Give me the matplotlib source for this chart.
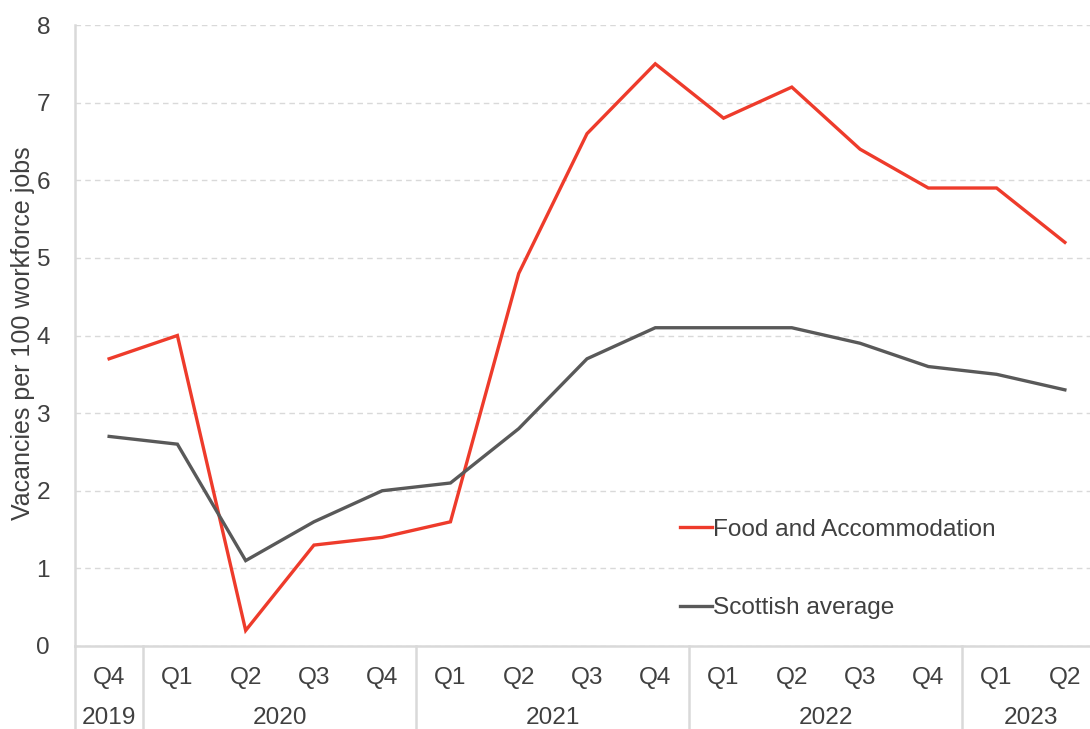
import numpy as np
import matplotlib
matplotlib.use("Agg")
import matplotlib.pyplot as plt
import matplotlib.transforms as mtransforms

#--- data ---#
quarters = ["Q4", "Q1", "Q2", "Q3", "Q4", "Q1", "Q2", "Q3", "Q4",
            "Q1", "Q2", "Q3", "Q4", "Q1", "Q2"]
years = ["2019", "2020", "2021", "2022", "2023"]
year_counts = [1, 4, 4, 4, 2]   # quarters per year group
food_accom = [3.7, 4.0, 0.2, 1.3, 1.4, 1.6, 4.8, 6.6, 7.5, 6.8, 7.2, 6.4, 5.9, 5.9, 5.2]
scot_avg = [2.7, 2.6, 1.1, 1.6, 2.0, 2.1, 2.8, 3.7, 4.1, 4.1, 4.1, 3.9, 3.6, 3.5, 3.3]

#--- style ---#
txt_col = "#404040"
line_col = "#d9d9d9"
fs = 17.6
plt.rcParams["font.family"] = ["Liberation Sans", "DejaVu Sans"]
plt.rcParams["font.size"] = fs

fig = plt.figure(figsize=(10.9, 7.29), dpi=100, facecolor="w")
ax = fig.add_axes([75 / 1090, 83 / 729, 1024 / 1090, 621 / 729])

x = np.arange(len(quarters))
ax.plot(x, food_accom, color="#ee3b2b", lw=2.4, label="Food and Accommodation",
        solid_joinstyle="miter")
ax.plot(x, scot_avg, color="#595959", lw=2.4, label="Scottish average",
        solid_joinstyle="miter")

ax.set_xlim(-0.5, len(quarters) - 0.5)
ax.set_ylim(0, 8)
ax.set_yticks(range(0, 9))
ax.yaxis.grid(True, color=line_col, ls=(0, (4, 3)), lw=1)
ax.set_axisbelow(True)

for s in ["top", "right"]:
    ax.spines[s].set_visible(False)
for s in ["left", "bottom"]:
    ax.spines[s].set_color(line_col)
    ax.spines[s].set_linewidth(1.8)

ax.set_xticks(x)
ax.set_xticklabels(quarters)
ax.tick_params(axis="both", length=0, colors=txt_col, labelsize=fs)
ax.tick_params(axis="x", pad=15)
ax.tick_params(axis="y", pad=18)

ax.set_ylabel("Vacancies per 100 workforce jobs", color=txt_col, fontsize=18)
ax.yaxis.set_label_coords(-0.039, 0.503)

# Year group labels and separators
trans = mtransforms.blended_transform_factory(ax.transData, ax.transAxes)
start = 0
bottom = -83 / 621
for yr, cnt in zip(years, year_counts):
    mid = start + (cnt - 1) / 2
    ax.text(mid, -72 / 621, yr, transform=trans, ha="center", va="center",
            color=txt_col, fontsize=fs)
    ax.plot([start - 0.5, start - 0.5], [0, bottom], transform=trans,
            color=line_col, lw=1.8, clip_on=False)
    start += cnt

leg = ax.legend(loc="center left", bbox_to_anchor=(0.591, 0.124), frameon=False,
                handlelength=1.3, handletextpad=0.05, labelspacing=2.3,
                borderpad=0, borderaxespad=0, fontsize=fs)
for t in leg.get_texts():
    t.set_color(txt_col)

fig.savefig("out.png", dpi=100)
